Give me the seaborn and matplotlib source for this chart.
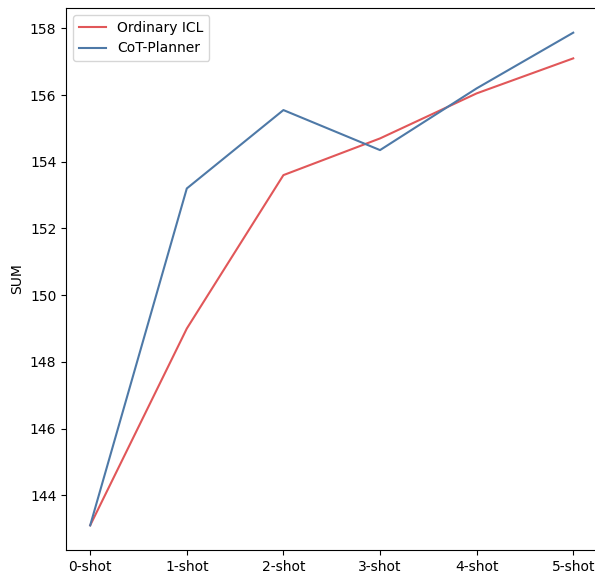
import pandas as pd
import seaborn as sns
import matplotlib.pyplot as plt

shots = ['0-shot', '1-shot', '2-shot', '3-shot', '4-shot', '5-shot']
ordinary_icl = [143.1, 149.0, 153.6, 154.7, 156.05, 157.1]
cot_planner = [143.1, 153.2, 155.55, 154.35, 156.2, 157.87]

df = pd.DataFrame({
    'shot': shots * 2,
    'SUM': ordinary_icl + cot_planner,
    'method': ['Ordinary ICL'] * len(shots) + ['CoT-Planner'] * len(shots),
})

fig = plt.figure(figsize=(5.95, 5.75), dpi=100)
ax = fig.add_axes([0.111, 0.0435, 0.893, 0.9425])
sns.lineplot(data=df, x='shot', y='SUM', hue='method', sort=False,
             palette={'Ordinary ICL': '#e15759', 'CoT-Planner': '#4e79a7'},
             linewidth=1.5, ax=ax)
ax.set_xlabel('')
ax.set_ylabel('SUM')
ax.legend(loc='upper left')
fig.savefig('out.png', dpi=100)
